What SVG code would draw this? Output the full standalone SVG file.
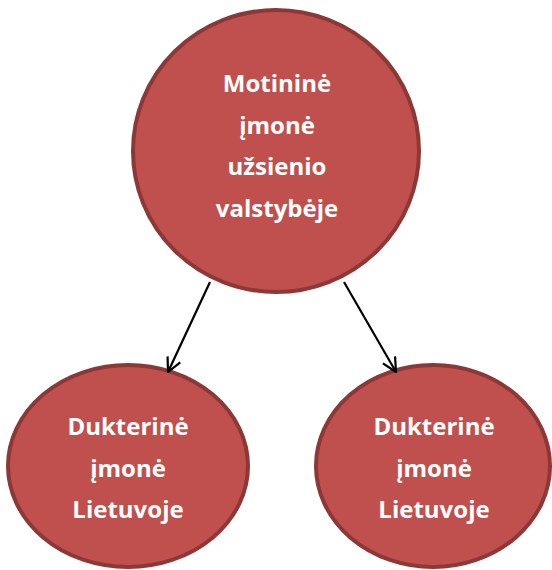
<svg xmlns="http://www.w3.org/2000/svg" width="552" height="570" viewBox="0 0 552 570">
<style>
.node{fill:#c0504d;stroke:#8c3836;stroke-width:4}
.lbl{font-family:"Open Sans","Noto Sans",sans-serif;font-weight:bold;font-size:24px;fill:#ffffff;text-anchor:middle}
.edge{stroke:#000;stroke-width:2.2;fill:none}
</style>
<defs>
<marker id="arr" viewBox="0 0 16 16" refX="15" refY="8" markerWidth="16" markerHeight="16" markerUnits="userSpaceOnUse" orient="auto">
<path d="M1,1 L15,8 L1,15" fill="none" stroke="#000" stroke-width="2.2"/>
</marker>
</defs>
<g id="parent">
<ellipse class="node" cx="276" cy="151" rx="143" ry="141"/>
<text class="lbl" x="277" y="92">Motininė</text>
<text class="lbl" x="277" y="133.5">įmonė</text>
<text class="lbl" x="277" y="175">užsienio</text>
<text class="lbl" x="277" y="216.5">valstybėje</text>
</g>
<g id="child-left">
<ellipse class="node" cx="128" cy="466" rx="120" ry="101"/>
<text class="lbl" x="128" y="435">Dukterinė</text>
<text class="lbl" x="128" y="476.5">įmonė</text>
<text class="lbl" x="128" y="518">Lietuvoje</text>
</g>
<g id="child-right">
<ellipse class="node" cx="433" cy="466" rx="117" ry="101"/>
<text class="lbl" x="434" y="435">Dukterinė</text>
<text class="lbl" x="434" y="476.5">įmonė</text>
<text class="lbl" x="434" y="518">Lietuvoje</text>
</g>
<g id="connectors">
<line class="edge" x1="210" y1="282" x2="168" y2="372" marker-end="url(#arr)"/>
<line class="edge" x1="344" y1="282" x2="396" y2="372" marker-end="url(#arr)"/>
</g>
</svg>
